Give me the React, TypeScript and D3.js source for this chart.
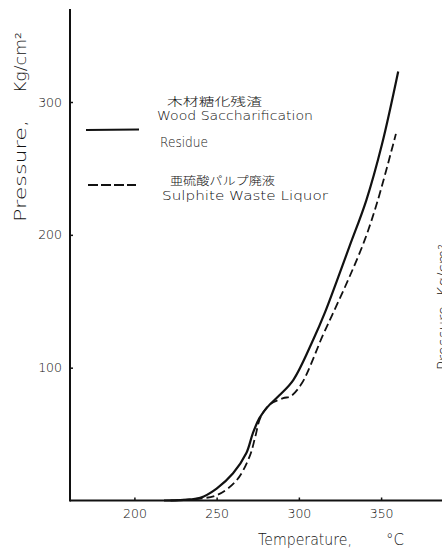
import React, { useEffect, useRef } from 'react';
import * as d3 from 'd3';

// Temperature (°C) vs pressure (kg/cm²)
const residueTemp = [218, 230, 240, 250, 260, 268, 272, 276, 281, 288, 296.6, 308.7, 316, 323, 331, 341, 350.5, 360.4];
const residuePress = [0, 0.5, 2, 9, 20.5, 35.5, 50.5, 62, 70.5, 79, 90.7, 121, 142, 165, 192, 226, 268, 323];

const sulphiteTemp = [222, 235, 250, 262, 270, 273.5, 276.5, 282, 290.5, 295, 301.7, 314.8, 323, 331, 340, 348, 359];
const sulphitePress = [0, 1, 4, 15, 33, 48, 62, 72, 77, 78.5, 88, 125, 147, 169, 196, 226, 276];

const xTicks = [200, 250, 300, 350];
const yTicks = [100, 200, 300];

const residueLabelJa = '木材糖化残渣';
const residueLabelEn1 = 'Wood Saccharification';
const residueLabelEn2 = 'Residue';
const sulphiteLabelJa = '亜硫酸パルプ廃液';
const sulphiteLabelEn = 'Sulphite Waste Liquor';

function PressureChart() {
  const svgRef = useRef<SVGSVGElement>(null);

  useEffect(() => {
    if (!svgRef.current) return;
    const width = 442;
    const height = 549;
    const ink = '#111';
    const font = '"DejaVu Sans", "Liberation Sans", sans-serif';
    const jaFont = '"Noto Sans CJK JP", sans-serif';

    const svg = d3.select(svgRef.current);
    svg.selectAll('*').remove();
    svg.attr('width', width).attr('height', height);

    svg.append('rect').attr('width', width).attr('height', height).attr('fill', '#fff');

    const x = d3.scaleLinear().domain([200, 350]).range([134.4, 381.1]);
    const y = d3.scaleLinear().domain([0, 300]).range([500.5, 102]);

    const left = 70;
    const bottom = y(0);

    // axes
    const xAxis = svg.append('g')
      .attr('transform', `translate(0,${bottom})`)
      .call(d3.axisBottom(x).tickValues(xTicks).tickSize(-3).tickPadding(9).tickFormat(d3.format('d')));
    xAxis.select('.domain').remove();

    const yAxis = svg.append('g')
      .attr('transform', `translate(${left},0)`)
      .call(d3.axisLeft(y).tickValues(yTicks).tickSize(-3).tickPadding(8).tickFormat(d3.format('d')));
    yAxis.select('.domain').remove();

    [xAxis, yAxis].forEach(g => {
      g.selectAll('line').attr('stroke', ink).attr('stroke-width', 1.5);
      g.selectAll('text')
        .attr('fill', ink)
        .attr('font-family', font)
        .attr('font-weight', 300)
        .attr('font-size', 12.5);
    });

    svg.append('line')
      .attr('x1', left).attr('x2', width)
      .attr('y1', bottom).attr('y2', bottom)
      .attr('stroke', ink).attr('stroke-width', 2);
    svg.append('line')
      .attr('x1', left).attr('x2', left)
      .attr('y1', 9).attr('y2', bottom + 1)
      .attr('stroke', ink).attr('stroke-width', 2);

    // curves
    const line = d3.line<[number, number]>()
      .x(d => x(d[0]))
      .y(d => y(d[1]))
      .curve(d3.curveCatmullRom.alpha(0.5));

    const residue = residueTemp.map((t, i) => [t, residuePress[i]] as [number, number]);
    const sulphite = sulphiteTemp.map((t, i) => [t, sulphitePress[i]] as [number, number]);

    svg.append('path')
      .attr('d', line(sulphite))
      .attr('fill', 'none')
      .attr('stroke', ink)
      .attr('stroke-width', 1.8)
      .attr('stroke-dasharray', '8,4');

    svg.append('path')
      .attr('d', line(residue))
      .attr('fill', 'none')
      .attr('stroke', ink)
      .attr('stroke-width', 2.2);

    // legend
    svg.append('line')
      .attr('x1', 86).attr('x2', 139).attr('y1', 130).attr('y2', 129.5)
      .attr('stroke', ink).attr('stroke-width', 2.2);
    svg.append('line')
      .attr('x1', 88).attr('x2', 136).attr('y1', 185).attr('y2', 185)
      .attr('stroke', ink).attr('stroke-width', 1.8)
      .attr('stroke-dasharray', '10,3');

    const label = (txt: string, lx: number, ly: number, len: number, size: number, fam: string) =>
      svg.append('text')
        .attr('x', lx).attr('y', ly)
        .attr('font-family', fam)
        .attr('font-size', size)
        .attr('font-weight', 300)
        .attr('fill', ink)
        .attr('textLength', len)
        .attr('lengthAdjust', 'spacingAndGlyphs')
        .text(txt);

    label(residueLabelJa, 167, 106, 95, 11, jaFont);
    label(residueLabelEn1, 157, 120, 156, 12, font);
    label(residueLabelEn2, 160, 147, 48, 13.5, font);
    label(sulphiteLabelJa, 170, 185, 105, 11, jaFont);
    label(sulphiteLabelEn, 162, 200, 166, 13, font);

    // axis titles
    const title = (txt: string, transform: string, len: number | null) => {
      const t = svg.append('text')
        .attr('transform', transform)
        .attr('font-family', font).attr('font-size', 15)
        .attr('font-weight', 300).attr('fill', ink)
        .text(txt);
      if (len) t.attr('textLength', len).attr('lengthAdjust', 'spacingAndGlyphs');
      return t;
    };
    title('Pressure,', 'translate(26,222) rotate(-90)', 102);
    title('Kg/cm²', 'translate(26,93) rotate(-90)', 61);
    title('Temperature,', 'translate(258,545)', 94);
    title('°C', 'translate(386,545)', null);

    // neighbouring figure's axis title, cut off at the right edge
    title('Pressure,   Kg/cm²', 'translate(449,370) rotate(-90)', null);
  }, []);

  return <svg ref={svgRef} style={{ position: 'absolute', left: 0, top: 0 }}></svg>;
}

export default function App() {
  return <PressureChart />;
}
